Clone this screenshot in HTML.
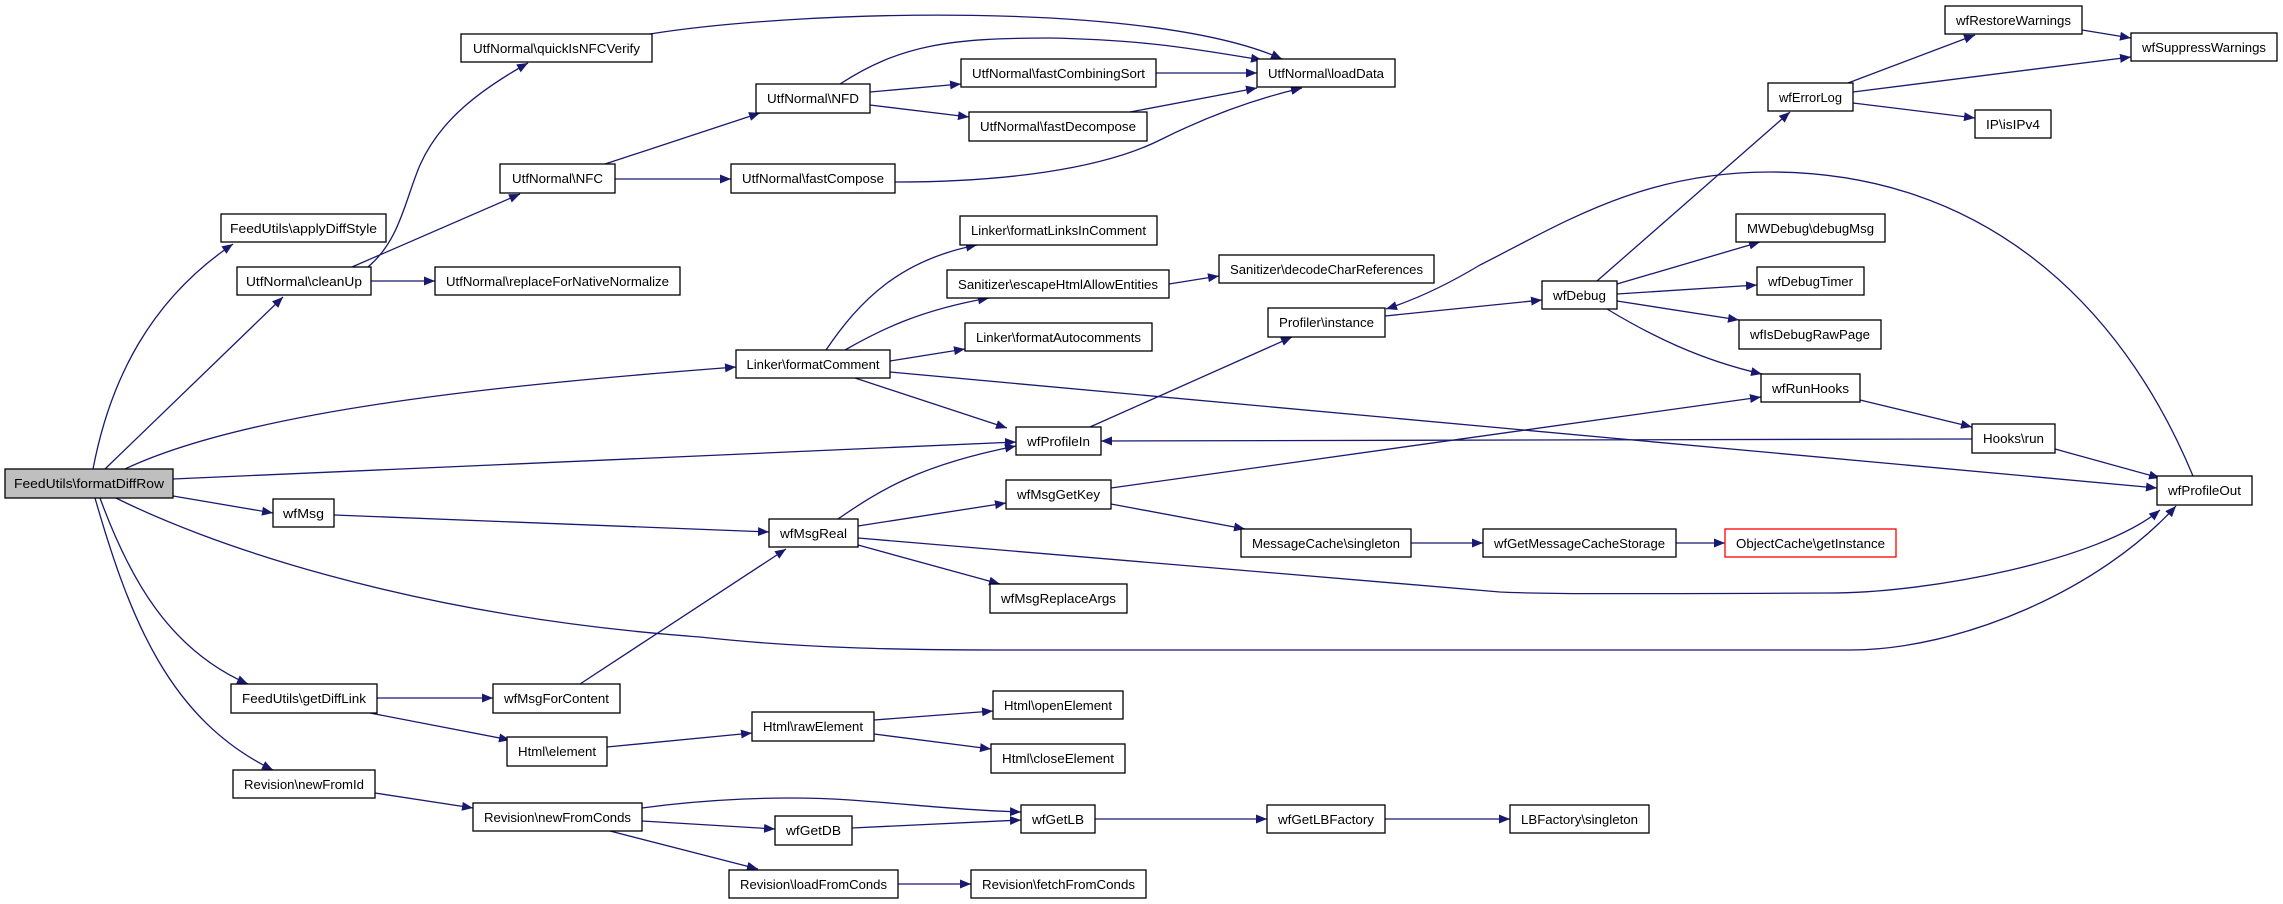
<!DOCTYPE html>
<html><head><meta charset="utf-8"><style>
html,body{margin:0;padding:0;background:#fff;}
svg{display:block;}
text{font-family:"Liberation Sans",sans-serif;font-size:13px;fill:#000;}
.e{fill:none;stroke:#191970;stroke-width:1.3;marker-end:url(#a);}
.n{fill:#fff;stroke:#000;stroke-width:1.3;}
</style></head><body>
<svg width="2283" height="904" viewBox="0 0 2283 904" xmlns="http://www.w3.org/2000/svg">
<defs><marker id="a" markerUnits="userSpaceOnUse" markerWidth="12" markerHeight="10" refX="11" refY="4.5" orient="auto"><path d="M0,0 L11,4.5 L0,9 z" fill="#191970"/></marker></defs>
<g>
<path class="e" d="M93,469 C110,380 150,300 233,244"/>
<path class="e" d="M105,469 L283,297"/>
<path class="e" d="M125,469 C250,410 500,385 736,367"/>
<path class="e" d="M173,479 L1016,442"/>
<path class="e" d="M173,496 L273,513"/>
<path class="e" d="M116,498 C200,540 400,615 700,637 C800,648 900,650 1000,650 L1850,650 C1960,650 2100,590 2176,506"/>
<path class="e" d="M858,538 L1500,592 C1540,594 1600,594 1830,593 C1930,593 2100,560 2160,510"/>
<path class="e" d="M100,498 C130,580 170,650 248,684"/>
<path class="e" d="M95,498 C130,620 170,720 273,770"/>
<path class="e" d="M368,267 C400,240 405,200 420,165 C440,120 480,90 528,63"/>
<path class="e" d="M352,267 L520,194"/>
<path class="e" d="M371,281 L435,281"/>
<path class="e" d="M650,34 C800,10 1150,0 1282,59"/>
<path class="e" d="M605,164 L760,113"/>
<path class="e" d="M615,179 L731,179"/>
<path class="e" d="M840,84 C900,45 950,38 1050,38 C1150,40 1200,50 1262,60"/>
<path class="e" d="M870,92 L961,84"/>
<path class="e" d="M870,105 L969,117"/>
<path class="e" d="M1156,73 L1257,73"/>
<path class="e" d="M1130,112 L1257,88"/>
<path class="e" d="M895,182 C1000,182 1100,170 1160,140 C1200,120 1250,100 1302,88"/>
<path class="e" d="M826,350 C860,300 900,260 977,245"/>
<path class="e" d="M845,350 C880,330 920,310 989,298"/>
<path class="e" d="M890,361 L965,349"/>
<path class="e" d="M855,378 L1007,428"/>
<path class="e" d="M890,372 L2157,488"/>
<path class="e" d="M1169,284 L1219,276"/>
<path class="e" d="M1090,427 L1292,337"/>
<path class="e" d="M1385,316 L1542,300"/>
<path class="e" d="M2193,476 C2120,300 1980,172 1770,172 C1640,172 1560,225 1480,265 Q1430,295 1386,309"/>
<path class="e" d="M1597,281 L1790,112"/>
<path class="e" d="M1617,284 L1760,242"/>
<path class="e" d="M1617,294 L1757,285"/>
<path class="e" d="M1617,301 L1739,320"/>
<path class="e" d="M1607,309 C1650,335 1700,360 1762,374"/>
<path class="e" d="M1848,83 L1975,35"/>
<path class="e" d="M1853,92 L2131,57"/>
<path class="e" d="M1853,103 L1975,118"/>
<path class="e" d="M2082,30 L2131,38"/>
<path class="e" d="M1860,400 L1972,427"/>
<path class="e" d="M1972,439 L1101,441"/>
<path class="e" d="M2055,449 L2160,478"/>
<path class="e" d="M1111,488 L1761,397"/>
<path class="e" d="M1111,504 L1245,529"/>
<path class="e" d="M1411,543 L1483,543"/>
<path class="e" d="M1676,543 L1725,543"/>
<path class="e" d="M334,515 L769,532"/>
<path class="e" d="M838,519 C880,490 920,465 1016,446"/>
<path class="e" d="M858,526 L1006,503"/>
<path class="e" d="M858,545 L1000,584"/>
<path class="e" d="M580,684 L786,549"/>
<path class="e" d="M377,698 L493,698"/>
<path class="e" d="M370,713 L510,740"/>
<path class="e" d="M607,747 L752,733"/>
<path class="e" d="M874,720 L993,711"/>
<path class="e" d="M874,734 L991,749"/>
<path class="e" d="M375,793 L473,808"/>
<path class="e" d="M642,808 C700,800 780,795 850,800 C920,805 960,810 1021,812"/>
<path class="e" d="M642,821 L775,829"/>
<path class="e" d="M610,831 L758,869"/>
<path class="e" d="M852,828 L1021,820"/>
<path class="e" d="M1095,819 L1267,819"/>
<path class="e" d="M1385,819 L1510,819"/>
<path class="e" d="M898,884 L971,884"/>
</g>
<g>
<rect x="5" y="469" width="168" height="29" fill="#bfbfbf" stroke="#000" stroke-width="1.3"/><text x="89" y="488" text-anchor="middle" textLength="150" lengthAdjust="spacingAndGlyphs">FeedUtils\formatDiffRow</text>
<rect class="n" x="221" y="214" width="165" height="28"/><text x="303.5" y="233" text-anchor="middle" textLength="147" lengthAdjust="spacingAndGlyphs">FeedUtils\applyDiffStyle</text>
<rect class="n" x="237" y="267" width="134" height="28"/><text x="304" y="286" text-anchor="middle" textLength="116" lengthAdjust="spacingAndGlyphs">UtfNormal\cleanUp</text>
<rect class="n" x="461" y="34" width="191" height="28"/><text x="556.5" y="53" text-anchor="middle" textLength="167" lengthAdjust="spacingAndGlyphs">UtfNormal\quickIsNFCVerify</text>
<rect class="n" x="500" y="164" width="115" height="29"/><text x="557.5" y="183" text-anchor="middle" textLength="91" lengthAdjust="spacingAndGlyphs">UtfNormal\NFC</text>
<rect class="n" x="435" y="267" width="245" height="28"/><text x="557.5" y="286" text-anchor="middle" textLength="223" lengthAdjust="spacingAndGlyphs">UtfNormal\replaceForNativeNormalize</text>
<rect class="n" x="756" y="84" width="114" height="29"/><text x="813" y="103" text-anchor="middle" textLength="92" lengthAdjust="spacingAndGlyphs">UtfNormal\NFD</text>
<rect class="n" x="961" y="59" width="195" height="28"/><text x="1058.5" y="78" text-anchor="middle" textLength="173" lengthAdjust="spacingAndGlyphs">UtfNormal\fastCombiningSort</text>
<rect class="n" x="1257" y="59" width="138" height="28"/><text x="1326" y="78" text-anchor="middle" textLength="116" lengthAdjust="spacingAndGlyphs">UtfNormal\loadData</text>
<rect class="n" x="969" y="112" width="178" height="29"/><text x="1058" y="131" text-anchor="middle" textLength="156" lengthAdjust="spacingAndGlyphs">UtfNormal\fastDecompose</text>
<rect class="n" x="731" y="164" width="164" height="29"/><text x="813" y="183" text-anchor="middle" textLength="142" lengthAdjust="spacingAndGlyphs">UtfNormal\fastCompose</text>
<rect class="n" x="960" y="216" width="197" height="29"/><text x="1058.5" y="235" text-anchor="middle" textLength="175" lengthAdjust="spacingAndGlyphs">Linker\formatLinksInComment</text>
<rect class="n" x="947" y="270" width="222" height="28"/><text x="1058" y="289" text-anchor="middle" textLength="200" lengthAdjust="spacingAndGlyphs">Sanitizer\escapeHtmlAllowEntities</text>
<rect class="n" x="1219" y="255" width="215" height="28"/><text x="1326.5" y="274" text-anchor="middle" textLength="193" lengthAdjust="spacingAndGlyphs">Sanitizer\decodeCharReferences</text>
<rect class="n" x="965" y="323" width="187" height="28"/><text x="1058.5" y="342" text-anchor="middle" textLength="165" lengthAdjust="spacingAndGlyphs">Linker\formatAutocomments</text>
<rect class="n" x="736" y="350" width="154" height="28"/><text x="813" y="369" text-anchor="middle" textLength="133" lengthAdjust="spacingAndGlyphs">Linker\formatComment</text>
<rect class="n" x="1268" y="308" width="117" height="29"/><text x="1326.5" y="327" text-anchor="middle" textLength="95" lengthAdjust="spacingAndGlyphs">Profiler\instance</text>
<rect class="n" x="1016" y="427" width="85" height="28"/><text x="1058.5" y="446" text-anchor="middle" textLength="63" lengthAdjust="spacingAndGlyphs">wfProfileIn</text>
<rect class="n" x="1945" y="6" width="137" height="28"/><text x="2013.5" y="25" text-anchor="middle" textLength="115" lengthAdjust="spacingAndGlyphs">wfRestoreWarnings</text>
<rect class="n" x="2131" y="33" width="146" height="28"/><text x="2204" y="52" text-anchor="middle" textLength="124" lengthAdjust="spacingAndGlyphs">wfSuppressWarnings</text>
<rect class="n" x="1768" y="83" width="85" height="28"/><text x="1810.5" y="102" text-anchor="middle" textLength="63" lengthAdjust="spacingAndGlyphs">wfErrorLog</text>
<rect class="n" x="1975" y="110" width="76" height="28"/><text x="2013" y="129" text-anchor="middle" textLength="54" lengthAdjust="spacingAndGlyphs">IP\isIPv4</text>
<rect class="n" x="1736" y="214" width="149" height="28"/><text x="1810.5" y="233" text-anchor="middle" textLength="127" lengthAdjust="spacingAndGlyphs">MWDebug\debugMsg</text>
<rect class="n" x="1542" y="281" width="75" height="28"/><text x="1579.5" y="300" text-anchor="middle" textLength="53" lengthAdjust="spacingAndGlyphs">wfDebug</text>
<rect class="n" x="1757" y="267" width="107" height="28"/><text x="1810.5" y="286" text-anchor="middle" textLength="85" lengthAdjust="spacingAndGlyphs">wfDebugTimer</text>
<rect class="n" x="1739" y="320" width="142" height="29"/><text x="1810" y="339" text-anchor="middle" textLength="120" lengthAdjust="spacingAndGlyphs">wfIsDebugRawPage</text>
<rect class="n" x="1761" y="374" width="99" height="28"/><text x="1810.5" y="393" text-anchor="middle" textLength="77" lengthAdjust="spacingAndGlyphs">wfRunHooks</text>
<rect class="n" x="1972" y="424" width="83" height="29"/><text x="2013.5" y="443" text-anchor="middle" textLength="61" lengthAdjust="spacingAndGlyphs">Hooks\run</text>
<rect class="n" x="2157" y="476" width="95" height="29"/><text x="2204.5" y="495" text-anchor="middle" textLength="73" lengthAdjust="spacingAndGlyphs">wfProfileOut</text>
<rect class="n" x="1483" y="529" width="193" height="28"/><text x="1579.5" y="548" text-anchor="middle" textLength="171" lengthAdjust="spacingAndGlyphs">wfGetMessageCacheStorage</text>
<rect x="1725" y="529" width="171" height="28" fill="#fff" stroke="#ff0000" stroke-width="1.3"/><text x="1810.5" y="548" text-anchor="middle" textLength="149" lengthAdjust="spacingAndGlyphs">ObjectCache\getInstance</text>
<rect class="n" x="273" y="499" width="61" height="28"/><text x="303.5" y="518" text-anchor="middle" textLength="41" lengthAdjust="spacingAndGlyphs">wfMsg</text>
<rect class="n" x="769" y="519" width="89" height="28"/><text x="813.5" y="538" text-anchor="middle" textLength="67" lengthAdjust="spacingAndGlyphs">wfMsgReal</text>
<rect class="n" x="1006" y="480" width="105" height="29"/><text x="1058.5" y="499" text-anchor="middle" textLength="83" lengthAdjust="spacingAndGlyphs">wfMsgGetKey</text>
<rect class="n" x="1241" y="529" width="170" height="28"/><text x="1326" y="548" text-anchor="middle" textLength="148" lengthAdjust="spacingAndGlyphs">MessageCache\singleton</text>
<rect class="n" x="990" y="584" width="137" height="29"/><text x="1058.5" y="603" text-anchor="middle" textLength="115" lengthAdjust="spacingAndGlyphs">wfMsgReplaceArgs</text>
<rect class="n" x="231" y="684" width="146" height="29"/><text x="304" y="703" text-anchor="middle" textLength="124" lengthAdjust="spacingAndGlyphs">FeedUtils\getDiffLink</text>
<rect class="n" x="493" y="684" width="127" height="29"/><text x="556.5" y="703" text-anchor="middle" textLength="105" lengthAdjust="spacingAndGlyphs">wfMsgForContent</text>
<rect class="n" x="507" y="737" width="100" height="29"/><text x="557" y="756" text-anchor="middle" textLength="78" lengthAdjust="spacingAndGlyphs">Html\element</text>
<rect class="n" x="752" y="712" width="122" height="29"/><text x="813" y="731" text-anchor="middle" textLength="100" lengthAdjust="spacingAndGlyphs">Html\rawElement</text>
<rect class="n" x="993" y="691" width="130" height="28"/><text x="1058" y="710" text-anchor="middle" textLength="108" lengthAdjust="spacingAndGlyphs">Html\openElement</text>
<rect class="n" x="991" y="744" width="134" height="29"/><text x="1058" y="763" text-anchor="middle" textLength="112" lengthAdjust="spacingAndGlyphs">Html\closeElement</text>
<rect class="n" x="233" y="770" width="142" height="28"/><text x="304" y="789" text-anchor="middle" textLength="120" lengthAdjust="spacingAndGlyphs">Revision\newFromId</text>
<rect class="n" x="473" y="803" width="169" height="28"/><text x="557.5" y="822" text-anchor="middle" textLength="147" lengthAdjust="spacingAndGlyphs">Revision\newFromConds</text>
<rect class="n" x="775" y="816" width="77" height="29"/><text x="813.5" y="835" text-anchor="middle" textLength="55" lengthAdjust="spacingAndGlyphs">wfGetDB</text>
<rect class="n" x="1021" y="805" width="74" height="28"/><text x="1058" y="824" text-anchor="middle" textLength="52" lengthAdjust="spacingAndGlyphs">wfGetLB</text>
<rect class="n" x="1267" y="805" width="118" height="28"/><text x="1326" y="824" text-anchor="middle" textLength="96" lengthAdjust="spacingAndGlyphs">wfGetLBFactory</text>
<rect class="n" x="1510" y="805" width="139" height="28"/><text x="1579.5" y="824" text-anchor="middle" textLength="117" lengthAdjust="spacingAndGlyphs">LBFactory\singleton</text>
<rect class="n" x="729" y="870" width="169" height="28"/><text x="813.5" y="889" text-anchor="middle" textLength="147" lengthAdjust="spacingAndGlyphs">Revision\loadFromConds</text>
<rect class="n" x="971" y="870" width="175" height="28"/><text x="1058.5" y="889" text-anchor="middle" textLength="153" lengthAdjust="spacingAndGlyphs">Revision\fetchFromConds</text>
</g>
</svg>
</body></html>
